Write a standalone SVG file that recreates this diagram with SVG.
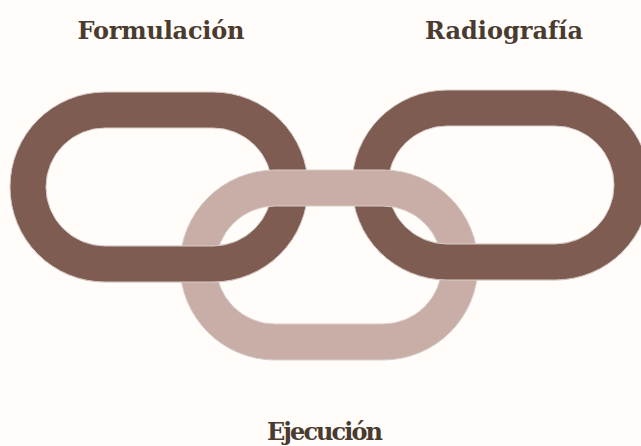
<svg xmlns="http://www.w3.org/2000/svg" width="641" height="446" viewBox="0 0 641 446">
  <defs>
    <style>
      .dark { fill: #7f5c51; stroke: #d8ccc8; stroke-width: 1; fill-rule: evenodd; }
      .light { fill: #c8aea6; stroke: #d8ccc8; stroke-width: 1; fill-rule: evenodd; }
      .label { font-family: "DejaVu Serif", "Liberation Serif", serif; font-weight: bold; font-size: 24px; fill: #4a3b30; text-anchor: middle; }
    </style>
    <clipPath id="bottomClip">
      <rect x="0" y="228" width="641" height="218"/>
    </clipPath>
    <path id="leftRing" d="M105,92 H213 A95,95 0 0 1 213,282 H105 A95,95 0 0 1 105,92 Z M105,128 A59,59 0 0 0 105,246 H213 A59,59 0 0 0 213,128 Z"/>
    <path id="rightRing" d="M447,90 H555 A95,95 0 0 1 555,280 H447 A95,95 0 0 1 447,90 Z M447,126 A59,59 0 0 0 447,244 H555 A59,59 0 0 0 555,126 Z"/>
  </defs>
  <rect x="0" y="0" width="641" height="446" fill="#fffcf9"/>
  <g id="link-formulacion">
    <use href="#leftRing" class="dark"/>
  </g>
  <g id="link-radiografia">
    <use href="#rightRing" class="dark"/>
  </g>
  <g id="link-ejecucion">
    <path class="light" d="M275,170 H383 A95,95 0 0 1 383,360 H275 A95,95 0 0 1 275,170 Z M275,206 A59,59 0 0 0 275,324 H383 A59,59 0 0 0 383,206 Z"/>
  </g>
  <g id="connectors">
    <use href="#leftRing" class="dark" clip-path="url(#bottomClip)"/>
    <use href="#rightRing" class="dark" clip-path="url(#bottomClip)"/>
  </g>
  <g id="label-formulacion">
    <text class="label" x="161" y="39" textLength="167">Formulación</text>
  </g>
  <g id="label-radiografia">
    <text class="label" x="504" y="39" textLength="158">Radiografía</text>
  </g>
  <g id="label-ejecucion">
    <text class="label" x="325" y="440" textLength="116">Ejecución</text>
  </g>
</svg>
